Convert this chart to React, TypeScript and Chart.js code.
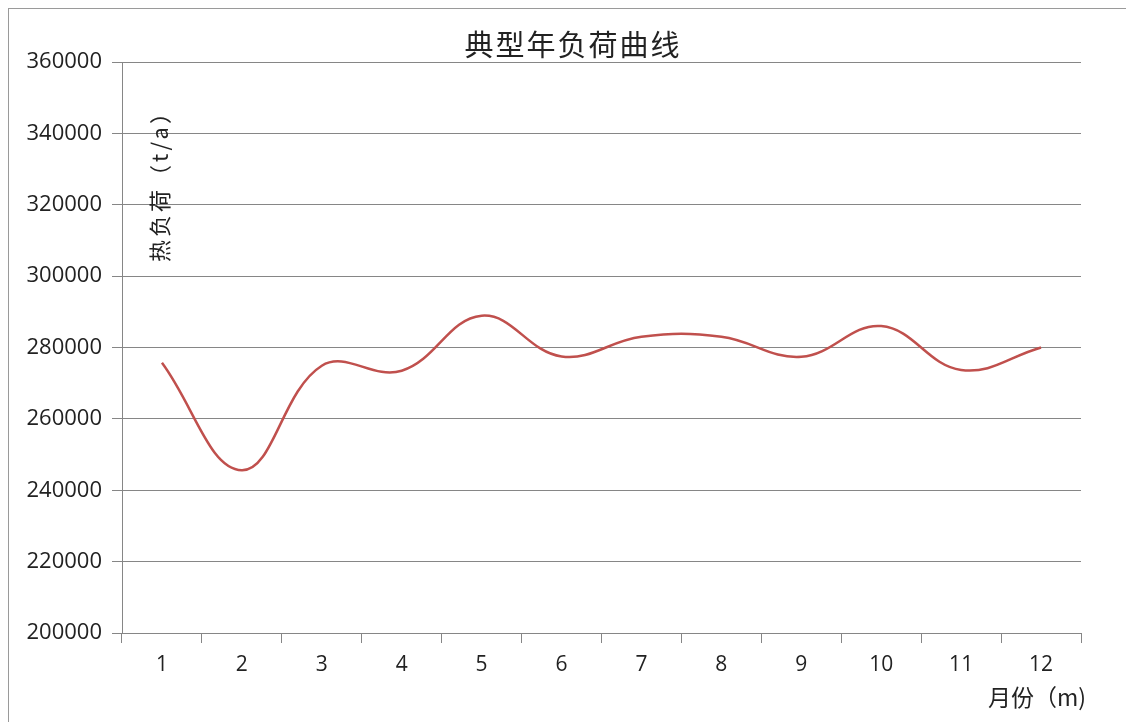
import React, { useEffect, useRef } from "react";
import { Chart, registerables } from "chart.js";

Chart.register(...registerables);

const months = ["1", "2", "3", "4", "5", "6", "7", "8", "9", "10", "11", "12"];
const heatLoad = [275700, 245600, 274900, 273500, 288900, 277500, 283000, 283000, 277400, 286000, 273700, 280000];
const chartTitle = "典型年负荷曲线";
const yAxisTitle = "热负荷（t/a）";
const xAxisTitle = "月份（m)";
const yMin = 200000;
const yMax = 360000;
const yStep = 20000;

const CJK = '"Noto Sans CJK SC", "Noto Sans", sans-serif';
const NUM = '"Open Sans", "Noto Sans", sans-serif';

const textPlugin = {
  id: "extraText",
  afterDraw(chart: any) {
    const { ctx, chartArea } = chart;
    ctx.save();
    ctx.fillStyle = "#222";
    // title
    ctx.font = `29px ${CJK}`;
    (ctx as any).letterSpacing = "2px";
    ctx.textAlign = "center";
    ctx.textBaseline = "middle";
    ctx.fillText(chartTitle, 564, 36);
    // x axis title
    ctx.font = `23px ${CJK}`;
    (ctx as any).letterSpacing = "0px";
    ctx.textAlign = "right";
    ctx.fillText(xAxisTitle, chartArea.right + 5, chartArea.bottom + 64);
    // y axis title (rotated, inside plot)
    ctx.translate(chartArea.left + 38, chartArea.top + 200);
    ctx.rotate(-Math.PI / 2);
    ctx.textAlign = "left";
    ctx.font = `22px ${CJK}`;
    (ctx as any).letterSpacing = "3px";
    ctx.fillText(yAxisTitle, 0, 0);
    ctx.restore();
  },
};

export default function App() {
  const ref = useRef<HTMLCanvasElement>(null);
  useEffect(() => {
    if (!ref.current) return;
    const chart = new Chart(ref.current, {
      type: "line",
      data: {
        labels: months,
        datasets: [
          {
            data: heatLoad,
            borderColor: "#C0504D",
            borderWidth: 2.5,
            pointRadius: 0,
            tension: 0.4,
            fill: false,
          },
        ],
      },
      options: {
        animation: false,
        responsive: false,
        maintainAspectRatio: false,
        layout: { padding: { top: 53, right: 53, left: 0, bottom: 0 } },
        plugins: { legend: { display: false }, tooltip: { enabled: false }, title: { display: false } },
        scales: {
          x: {
            type: "category",
            offset: true,
            grid: {
              offset: true,
              drawOnChartArea: false,
              drawTicks: true,
              tickLength: 10,
              color: "#868686",
            },
            border: { color: "#868686", width: 1 },
            ticks: {
              color: "#222",
              font: { family: NUM, size: 21 },
              padding: 9,
              maxRotation: 0,
            },
            afterFit: (s: any) => {
              s.height = 89;
            },
          },
          y: {
            min: yMin,
            max: yMax,
            grid: { color: "#868686", tickLength: 10, lineWidth: 1 },
            border: { color: "#868686", width: 1 },
            ticks: {
              stepSize: yStep,
              color: "#222",
              font: { family: NUM, size: 22 },
              padding: 10,
              callback: (v: any) => String(v),
            },
            afterFit: (s: any) => {
              s.width = 113;
            },
          },
        },
      },
      plugins: [textPlugin],
    });
    return () => chart.destroy();
  }, []);
  return (
    <div
      style={{
        width: 1125,
        height: 713,
        borderLeft: "1px solid #9a9a9a",
        borderTop: "1px solid #9a9a9a",
        background: "#fff",
      }}
    >
      <canvas ref={ref} width={1125} height={713} style={{ display: "block" }} />
    </div>
  );
}
